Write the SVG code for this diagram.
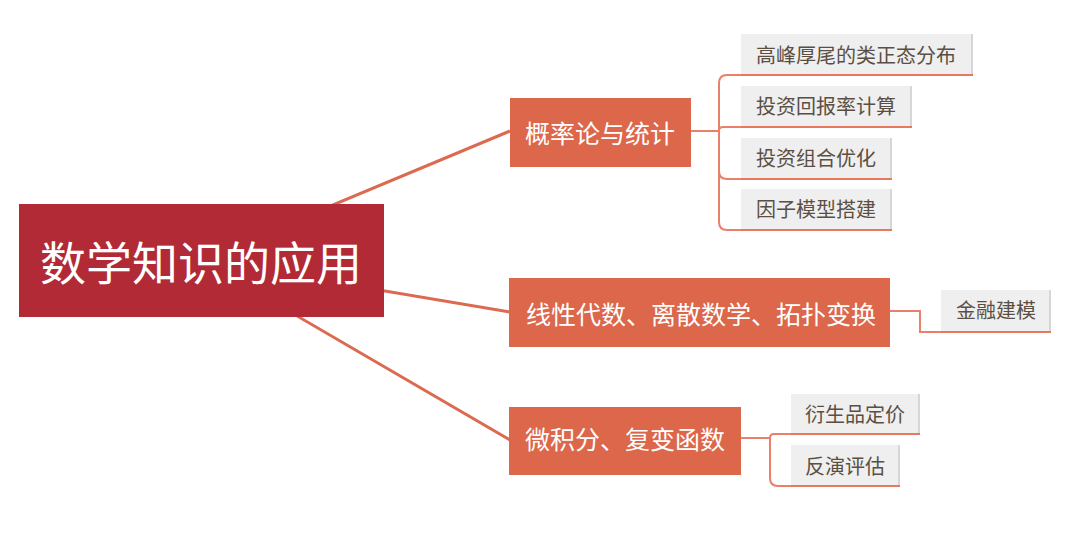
<svg xmlns="http://www.w3.org/2000/svg" width="1080" height="547" viewBox="0 0 1080 547">
<style>
.root{fill:#b22a36}
.branch{fill:#dc674b}
.leafbg{fill:#efefef}
.shadow{stroke:#d6d6d6;stroke-width:2;fill:none}
.under{stroke:#e8775f;stroke-width:2;fill:none}
.t{font-family:"Noto Sans CJK SC","Noto Sans",sans-serif}
.rt{fill:#ffffff;font-size:46px}
.bt{fill:#ffffff;font-size:25px}
.lt{fill:#5b4f44;font-size:20px}
.main{stroke:#dc6a50;stroke-width:3;fill:none}
.sub{stroke:#e8806a;stroke-width:2;fill:none}
</style>
<rect width="1080" height="547" fill="#ffffff"/>
<g id="connectors">
<path class="main" d="M201,260 L510,131"/>
<path class="main" d="M201,260 L510,312"/>
<path class="main" d="M201,260 L510,440"/>
<path class="sub" d="M691,131 H719"/>
<path class="sub" d="M719,131 V83 Q719,75 727,75 H741"/>
<path class="sub" d="M719,131 Q719,127 723,127 H741"/>
<path class="sub" d="M719,131 V171 Q719,179 727,179 H741"/>
<path class="sub" d="M719,131 V222 Q719,230 727,230 H741"/>
<path class="sub" d="M890,311 H920 V332 H941"/>
<path class="sub" d="M741,438 H770"/>
<path class="sub" d="M770,438 Q770,434 774,434 H791"/>
<path class="sub" d="M770,438 V478 Q770,486 778,486 H791"/>
</g>
<g id="root">
<rect class="root" x="19" y="204" width="365" height="113"/>
<text class="t rt" x="201" y="280" text-anchor="middle">数学知识的应用</text>
</g>
<g id="b1">
<rect class="branch" x="510" y="98" width="181" height="69"/>
<text class="t bt" x="600" y="143" text-anchor="middle">概率论与统计</text>
</g>
<g id="b2">
<rect class="branch" x="509" y="278" width="381" height="69"/>
<text class="t bt" x="526" y="324" textLength="350" lengthAdjust="spacing">线性代数、离散数学、拓扑变换</text>
</g>
<g id="b3">
<rect class="branch" x="509" y="407" width="232" height="68"/>
<text class="t bt" x="625" y="449" text-anchor="middle">微积分、复变函数</text>
</g>
<g id="l1">
<rect class="leafbg" x="741" y="34" width="232" height="41"/>
<path class="shadow" d="M972,34 V75"/>
<path class="under" d="M741,75 H973"/>
<text class="t lt" x="756" y="63">高峰厚尾的类正态分布</text>
</g>
<g id="l2">
<rect class="leafbg" x="741" y="86" width="171" height="41"/>
<path class="shadow" d="M911,86 V127"/>
<path class="under" d="M741,127 H912"/>
<text class="t lt" x="756" y="114">投资回报率计算</text>
</g>
<g id="l3">
<rect class="leafbg" x="741" y="138" width="151" height="41"/>
<path class="shadow" d="M891,138 V179"/>
<path class="under" d="M741,179 H892"/>
<text class="t lt" x="756" y="166">投资组合优化</text>
</g>
<g id="l4">
<rect class="leafbg" x="741" y="189" width="151" height="41"/>
<path class="shadow" d="M891,189 V230"/>
<path class="under" d="M741,230 H892"/>
<text class="t lt" x="756" y="217">因子模型搭建</text>
</g>
<g id="l5">
<rect class="leafbg" x="941" y="290" width="110" height="42"/>
<path class="shadow" d="M1050,290 V332"/>
<path class="under" d="M941,332 H1051"/>
<text class="t lt" x="956" y="318">金融建模</text>
</g>
<g id="l6">
<rect class="leafbg" x="791" y="394" width="129" height="40"/>
<path class="shadow" d="M919,394 V434"/>
<path class="under" d="M791,434 H920"/>
<text class="t lt" x="805" y="422">衍生品定价</text>
</g>
<g id="l7">
<rect class="leafbg" x="791" y="445" width="109" height="41"/>
<path class="shadow" d="M899,445 V486"/>
<path class="under" d="M791,486 H900"/>
<text class="t lt" x="805" y="474">反演评估</text>
</g>
</svg>
